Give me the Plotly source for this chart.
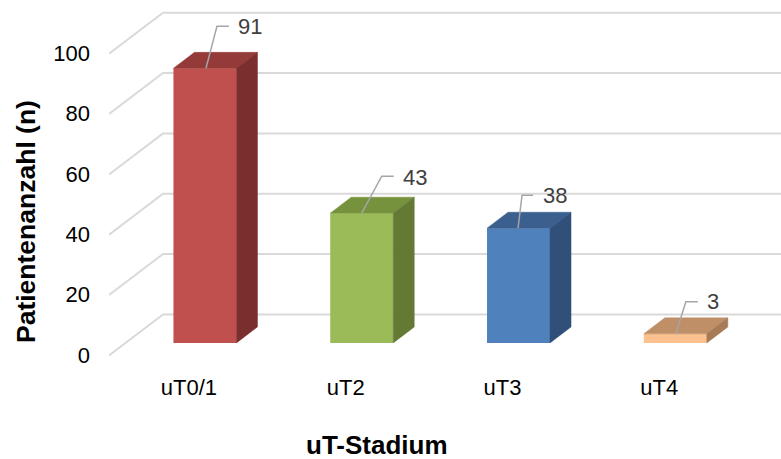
import plotly.graph_objects as go

# Patient counts per uT stage
categories = ["uT0/1", "uT2", "uT3", "uT4"]
patients = [91, 43, 38, 3]
y_ticks = [0, 20, 40, 60, 80, 100]

# Face colours per bar: front, top, side
front_colors = ["#C0504D", "#9BBB59", "#4F81BD", "#FBC18E"]
top_colors = ["#943B39", "#76923C", "#3B5F8E", "#BF8F68"]
side_colors = ["#7A2E2D", "#637934", "#30507A", "#A67B56"]

# Canvas and plot-area geometry (pixels)
W, H = 781, 459
M_L, M_R, M_T, M_B = 109, 0, 5, 101
X_RANGE = (-0.612, 3.674)
Y_RANGE = (-5, 112)
PX_X = (W - M_L - M_R) / (X_RANGE[1] - X_RANGE[0])
PX_Y = (H - M_T - M_B) / (Y_RANGE[1] - Y_RANGE[0])

# Pseudo-3D depth settings (pixels)
BAR_W = 63
BAR_DX, BAR_DY = 21, 16          # depth of each block
FLOOR_FRONT = 12.5               # front wall below the bar plane
FLOOR_BACK = 28.5                # back wall above the bar plane
WALL_DX = 54                     # horizontal run of the side wall

# Leader line and label offsets per bar (pixels, relative to bar top centre)
label_offsets = [
    dict(start=1, elbow=(12, 42), end=24, text=(31, 42)),
    dict(start=0, elbow=(20, 37), end=32, text=(39, 36)),
    dict(start=-0.5, elbow=(3.5, 33), end=14.5, text=(22.5, 33)),
    dict(start=0.5, elbow=(10.5, 32), end=22.5, text=(29.5, 32)),
]

FONT = "Liberation Sans, Arial, sans-serif"

w = BAR_W / PX_X
dx = BAR_DX / PX_X
dy = BAR_DY / PX_Y
xpos = list(range(len(categories)))

fig = go.Figure()

# Front faces
fig.add_trace(go.Bar(
    x=xpos, y=patients, width=w,
    marker=dict(color=front_colors, line=dict(width=0)),
    hoverinfo="skip", showlegend=False,
))

# Top and side faces
for i, v in enumerate(patients):
    x0, x1 = i - w / 2, i + w / 2
    fig.add_trace(go.Scatter(
        x=[x0, x1, x1 + dx, x0 + dx, x0], y=[v, v, v + dy, v + dy, v],
        mode="lines", fill="toself", fillcolor=top_colors[i],
        line=dict(width=0.5, color=top_colors[i]),
        hoverinfo="skip", showlegend=False,
    ))
    fig.add_trace(go.Scatter(
        x=[x1, x1 + dx, x1 + dx, x1, x1], y=[0, dy, v + dy, v, 0],
        mode="lines", fill="toself", fillcolor=side_colors[i],
        line=dict(width=0.5, color=side_colors[i]),
        hoverinfo="skip", showlegend=False,
    ))

# Leader lines and value labels
for i, v in enumerate(patients):
    o = label_offsets[i]
    fig.add_trace(go.Scatter(
        x=[i + o["start"] / PX_X, i + o["elbow"][0] / PX_X, i + o["end"] / PX_X],
        y=[v, v + o["elbow"][1] / PX_Y, v + o["elbow"][1] / PX_Y],
        mode="lines", line=dict(color="#A6A6A6", width=1.5),
        hoverinfo="skip", showlegend=False,
    ))
    fig.add_annotation(
        x=i, y=v, xref="x", yref="y", text=str(v), showarrow=False,
        xanchor="left", yanchor="middle",
        xshift=o["text"][0], yshift=o["text"][1],
        font=dict(family=FONT, size=22, color="#404040"),
    )

# Floor-to-wall gridlines
shapes = []
for t in y_ticks:
    yf = t - FLOOR_FRONT / PX_Y
    yb = t + FLOOR_BACK / PX_Y
    xw = X_RANGE[0] + WALL_DX / PX_X
    shapes.append(dict(
        type="path", xref="x", yref="y", layer="below",
        path=f"M {X_RANGE[0]},{yf} L {xw},{yb} L {X_RANGE[1]},{yb}",
        line=dict(color="#D9D9D9", width=2),
    ))

fig.update_layout(
    width=W, height=H,
    margin=dict(l=M_L, r=M_R, t=M_T, b=M_B),
    paper_bgcolor="white", plot_bgcolor="white",
    shapes=shapes,
    xaxis=dict(
        range=list(X_RANGE), tickmode="array", tickvals=xpos, ticktext=categories,
        showgrid=False, zeroline=False, showline=False, ticks="",
        ticklabelshift=-16, ticklabelstandoff=14,
        tickfont=dict(family=FONT, size=22, color="#000000"),
    ),
    yaxis=dict(
        range=list(Y_RANGE), tickmode="array", tickvals=y_ticks,
        showgrid=False, zeroline=False, showline=False, ticks="",
        ticklabelshift=round(FLOOR_FRONT), ticklabelstandoff=18,
        tickfont=dict(family=FONT, size=22, color="#000000"),
    ),
    annotations=list(fig.layout.annotations) + [
        dict(text="<b>Patientenanzahl (n)</b>", xref="paper", yref="paper",
             x=-(M_L - 26) / (W - M_L - M_R), y=(H - M_B - 222) / (H - M_T - M_B),
             textangle=-90, showarrow=False, xanchor="center", yanchor="middle",
             font=dict(family=FONT, size=26.5, color="#000000")),
        dict(text="<b>uT-Stadium</b>", xref="paper", yref="paper",
             x=(377 - M_L) / (W - M_L - M_R), y=-(445 - (H - M_B)) / (H - M_T - M_B),
             showarrow=False, xanchor="center", yanchor="middle",
             font=dict(family=FONT, size=26, color="#000000")),
    ],
)

fig.write_html("out.html")
